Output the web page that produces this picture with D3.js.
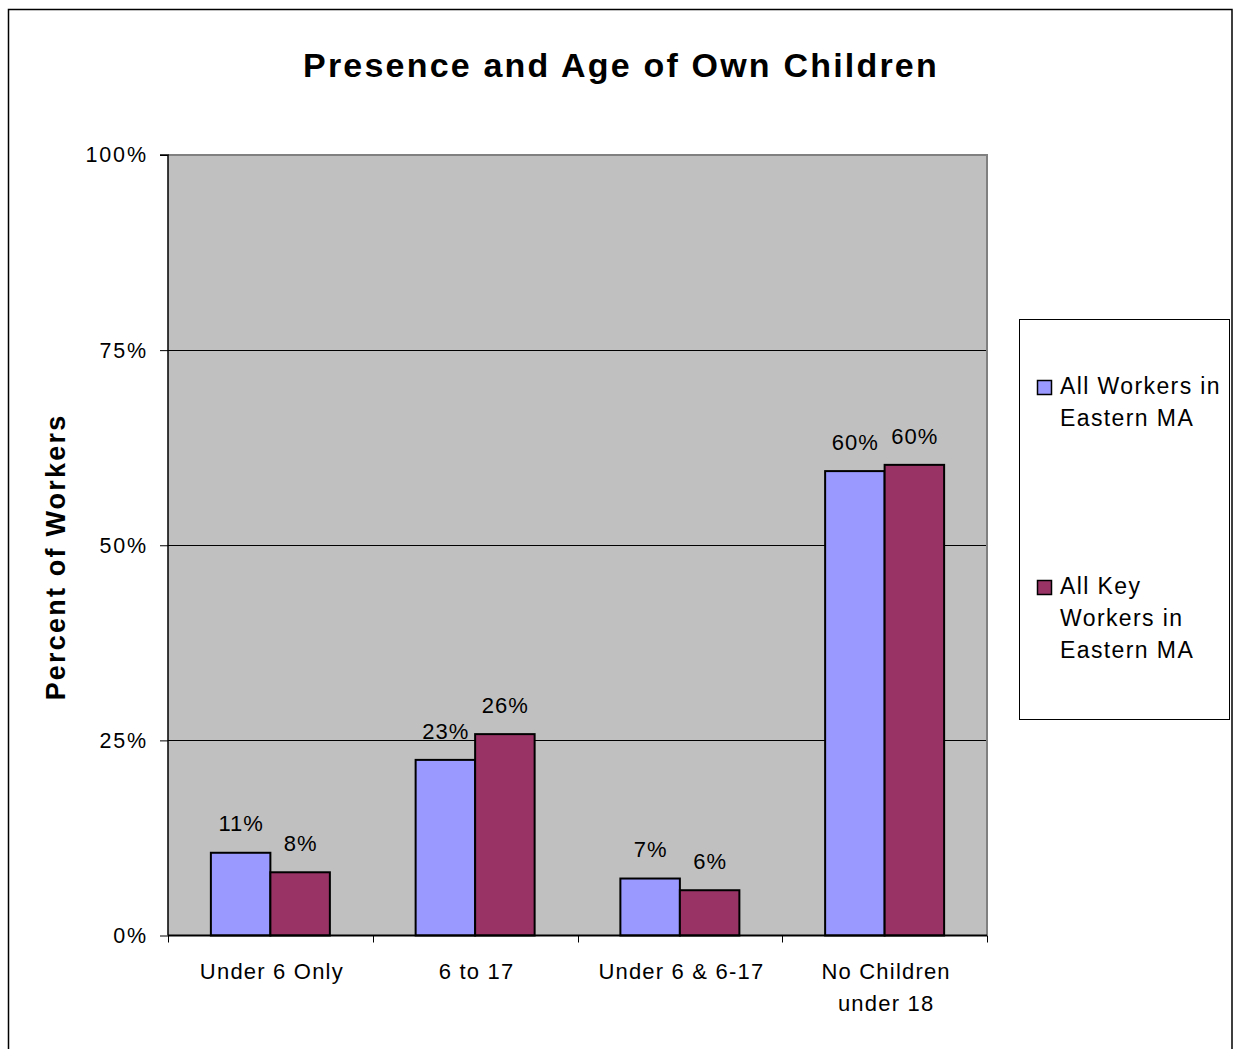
<!DOCTYPE html>
<html>
<head>
<meta charset="utf-8">
<script src="https://cdn.jsdelivr.net/npm/d3@7"></script>
<style>
  html, body { margin: 0; padding: 0; background: #ffffff; }
  svg { display: block; font-family: "Liberation Sans", Arial, sans-serif; }
</style>
</head>
<body>
<svg id="chart" width="1235" height="1049"></svg>
<script>
// Share of workers by presence and age of own children
const categories = [["Under 6 Only"], ["6 to 17"], ["Under 6 & 6-17"], ["No Children", "under 18"]];
const seriesNames = [["All Workers in", "Eastern MA"], ["All Key", "Workers in", "Eastern MA"]];
const allWorkers = [10.6, 22.5, 7.3, 59.5];
const keyWorkers = [8.1, 25.8, 5.8, 60.3];
const dataLabels = [["11%", "23%", "7%", "60%"], ["8%", "26%", "6%", "60%"]];
const yTicks = [0, 25, 50, 75, 100];
const colors = ["#9999ff", "#993366"];

const series = [allWorkers, keyWorkers];

const svg = d3.select("#chart");

// outer frame
svg.append("path")
  .attr("d", "M8.5,1049 V9.5 H1232 V1049")
  .attr("fill", "none").attr("stroke", "#000").attr("stroke-width", 1.5);

const plot = { left: 168, right: 987, top: 155, bottom: 935.5 };

const x = d3.scaleBand()
  .domain(d3.range(categories.length))
  .range([plot.left, plot.right])
  .paddingInner(0).paddingOuter(0);

const bandW = x.bandwidth();
const barW = 59.5;

const y = d3.scaleLinear().domain([0, 100]).range([plot.bottom, plot.top]);

// plot background
svg.append("rect")
  .attr("x", plot.left).attr("y", plot.top)
  .attr("width", plot.right - plot.left).attr("height", plot.bottom - plot.top)
  .attr("fill", "#c0c0c0");

// gridlines
svg.append("g").selectAll("line")
  .data(yTicks.filter(t => t > 0 && t < 100))
  .join("line")
  .attr("x1", plot.left).attr("x2", plot.right)
  .attr("y1", d => Math.round(y(d)) + 0.5).attr("y2", d => Math.round(y(d)) + 0.5)
  .attr("stroke", "#000").attr("stroke-width", 1);

// plot border (top and right)
svg.append("path")
  .attr("d", `M${plot.left},${plot.top} H${plot.right} V${plot.bottom}`)
  .attr("fill", "none").attr("stroke", "#808080").attr("stroke-width", 2);

// bars
series.forEach((vals, s) => {
  svg.append("g").selectAll("rect")
    .data(vals)
    .join("rect")
    .attr("x", (d, i) => x(i) + bandW / 2 - barW + s * barW)
    .attr("y", d => y(d))
    .attr("width", barW)
    .attr("height", d => plot.bottom - y(d))
    .attr("fill", colors[s])
    .attr("stroke", "#000").attr("stroke-width", 2);
});

// data labels
const labelSpacing = 1;
series.forEach((vals, s) => {
  svg.append("g").selectAll("text")
    .data(vals)
    .join("text")
    .attr("x", (d, i) => x(i) + bandW / 2 - barW / 2 + s * barW + labelSpacing / 2)
    .attr("y", d => y(d) - 29)
    .attr("dy", "0.35em")
    .attr("text-anchor", "middle")
    .attr("font-size", 22)
    .attr("letter-spacing", labelSpacing)
    .attr("fill", "#000")
    .text((d, i) => dataLabels[s][i]);
});

// y axis
const tickSpacing = 1.8;
const yAxis = d3.axisLeft(y).tickValues(yTicks).tickSize(8).tickPadding(14 - tickSpacing)
  .tickFormat(d => d + "%");
const gy = svg.append("g").attr("transform", `translate(${plot.left},0)`).call(yAxis);
gy.select(".domain").attr("stroke", "#000").attr("stroke-width", 1.5)
  .attr("d", `M-8,${plot.top}H0V${plot.bottom}`);
gy.selectAll(".tick line").attr("stroke", "#000");
gy.selectAll(".tick text")
  .attr("font-family", "\"Liberation Sans\", Arial, sans-serif")
  .attr("font-size", 21.5).attr("letter-spacing", tickSpacing).attr("fill", "#000");

// x axis baseline and category ticks
svg.append("line")
  .attr("x1", plot.left).attr("x2", plot.right)
  .attr("y1", plot.bottom).attr("y2", plot.bottom)
  .attr("stroke", "#000").attr("stroke-width", 2);
svg.append("g").selectAll("line")
  .data(d3.range(categories.length + 1))
  .join("line")
  .attr("x1", i => Math.round(plot.left + i * bandW) + 0.5)
  .attr("x2", i => Math.round(plot.left + i * bandW) + 0.5)
  .attr("y1", plot.bottom).attr("y2", plot.bottom + 7)
  .attr("stroke", "#000");

// category labels
const catText = svg.append("g").selectAll("text")
  .data(categories)
  .join("text")
  .attr("x", (d, i) => x(i) + bandW / 2 + 1.5)
  .attr("y", 979)
  .attr("text-anchor", "middle")
  .attr("font-size", 22)
  .attr("letter-spacing", 1.2)
  .attr("fill", "#000");
catText.selectAll("tspan")
  .data(d => d)
  .join("tspan")
  .attr("x", function() { return this.parentNode.getAttribute("x"); })
  .attr("dy", (d, i) => i === 0 ? 0 : 32)
  .text(d => d);

// title
svg.append("text")
  .attr("x", 621).attr("y", 77)
  .attr("text-anchor", "middle")
  .attr("font-size", 34).attr("font-weight", "bold")
  .attr("letter-spacing", 2.2)
  .attr("fill", "#000")
  .text("Presence and Age of Own Children");

// y axis title
svg.append("text")
  .attr("transform", "translate(65,557) rotate(-90)")
  .attr("text-anchor", "middle")
  .attr("font-size", 27).attr("font-weight", "bold")
  .attr("letter-spacing", 2.2)
  .attr("fill", "#000")
  .text("Percent of Workers");

// legend
const legend = svg.append("g");
legend.append("rect")
  .attr("x", 1019.5).attr("y", 319.5).attr("width", 210).attr("height", 400)
  .attr("fill", "#fff").attr("stroke", "#000").attr("stroke-width", 1);

const legendTop = [380, 580];
seriesNames.forEach((lines, s) => {
  legend.append("rect")
    .attr("x", 1037.5).attr("y", legendTop[s] + 0.5)
    .attr("width", 14).attr("height", 14)
    .attr("fill", colors[s]).attr("stroke", "#000").attr("stroke-width", 1.5);
  const t = legend.append("text")
    .attr("x", 1060).attr("y", legendTop[s] + 14)
    .attr("font-size", 23).attr("letter-spacing", 1.4)
    .attr("fill", "#000");
  t.selectAll("tspan").data(lines).join("tspan")
    .attr("x", 1060)
    .attr("dy", (d, i) => i === 0 ? 0 : 32)
    .text(d => d);
});
</script>
</body>
</html>
